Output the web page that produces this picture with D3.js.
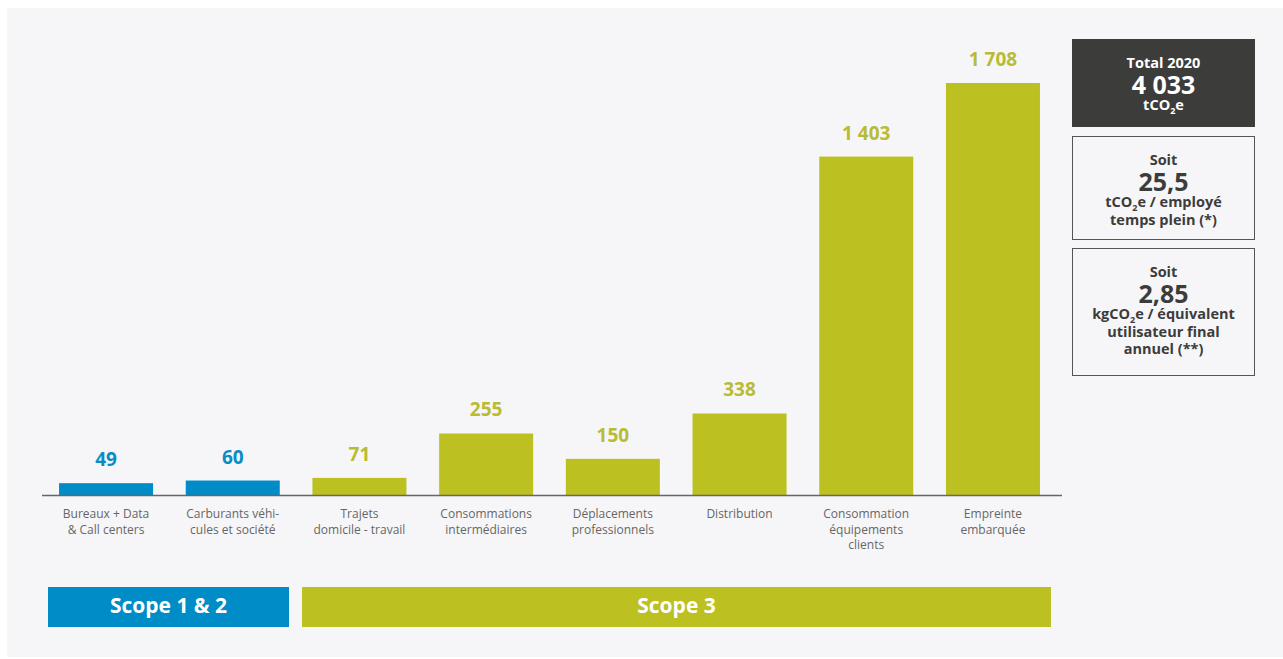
<!DOCTYPE html>
<html>
<head>
<meta charset="utf-8">
<script src="https://cdn.jsdelivr.net/npm/d3@7"></script>
<style>
  html, body { margin: 0; padding: 0; background: #ffffff; }
  svg { display: block; font-family: "Open Sans", Lato, sans-serif; }
</style>
</head>
<body>
<svg id="chart" width="1283" height="659"></svg>
<script>
// Emissions by source (tCO2e), 2020
const categories = [
  ["Bureaux + Data", "& Call centers"],
  ["Carburants véhi-", "cules et société"],
  ["Trajets", "domicile - travail"],
  ["Consommations", "intermédiaires"],
  ["Déplacements", "professionnels"],
  ["Distribution"],
  ["Consommation", "équipements", "clients"],
  ["Empreinte", "embarquée"]
];
const values = [49, 60, 71, 255, 150, 338, 1403, 1708];
const valueLabels = ["49", "60", "71", "255", "150", "338", "1 403", "1 708"];
const scopeOfBar = ["s12", "s12", "s3", "s3", "s3", "s3", "s3", "s3"];

const scopes = [
  { key: "s12", label: "Scope 1 & 2", first: 0, last: 1 },
  { key: "s3",  label: "Scope 3",     first: 2, last: 7 }
];

// summary cards: "|" marks the subscript part of a line
const summaryBoxes = [
  { dark: true,  lines: [["Total 2020", "s"], ["4 033", "b"], ["tCO|2|e", "s"]] },
  { dark: false, lines: [["Soit", "s"], ["25,5", "b"], ["tCO|2|e / employé", "s"], ["temps plein (*)", "s"]] },
  { dark: false, lines: [["Soit", "s"], ["2,85", "b"], ["kgCO|2|e / équivalent", "s"], ["utilisateur final", "s"], ["annuel (**)", "s"]] }
];

const colors = { s12: "#008cc7", s3: "#bcc021" };
const labelColors = { s12: "#0a8bc6", s3: "#b8bc34" };

const svg = d3.select("#chart");

// panel background
svg.append("rect").attr("x", 7).attr("y", 8).attr("width", 1276).attr("height", 649).attr("fill", "#f6f6f8");

const baseline = 495;
const x = d3.scaleBand()
  .domain(d3.range(values.length))
  .range([42.7, 1056.3])
  .paddingInner(0.258)
  .paddingOuter(0.129);
const y = d3.scaleLinear().domain([0, 1708]).range([baseline, 83]);

const g = svg.append("g");

// bars
g.selectAll("rect.bar").data(values).join("rect")
  .attr("class", "bar")
  .attr("x", (d, i) => x(i))
  .attr("width", x.bandwidth())
  .attr("y", d => y(d))
  .attr("height", d => baseline - y(d))
  .attr("fill", (d, i) => colors[scopeOfBar[i]]);

// value labels
g.selectAll("text.val").data(values).join("text")
  .attr("class", "val")
  .attr("x", (d, i) => x(i) + x.bandwidth() / 2)
  .attr("y", d => y(d) - 17)
  .attr("text-anchor", "middle")
  .attr("font-size", 19)
  .attr("font-weight", 700)
  .attr("fill", (d, i) => labelColors[scopeOfBar[i]])
  .text((d, i) => valueLabels[i]);

// axis line
g.append("line")
  .attr("x1", 42).attr("x2", 1062)
  .attr("y1", baseline + 0.5).attr("y2", baseline + 0.5)
  .attr("stroke", "#666666").attr("stroke-width", 1.3);

// category labels
const catG = g.selectAll("text.cat").data(categories).join("text")
  .attr("class", "cat")
  .attr("text-anchor", "middle")
  .attr("font-size", 12)
  .attr("fill", "#666666");
catG.each(function (lines, i) {
  const t = d3.select(this);
  lines.forEach((ln, k) => {
    t.append("tspan")
      .attr("x", x(i) + x.bandwidth() / 2)
      .attr("y", 518 + k * 15.5)
      .text(ln);
  });
});

// scope bands
const scopeG = g.selectAll("g.scope").data(scopes).join("g").attr("class", "scope");
const scopeX0 = s => s.first === 0 ? 48 : 302;
const scopeX1 = s => s.last === values.length - 1 ? 1051 : 289;
scopeG.append("rect")
  .attr("x", d => scopeX0(d))
  .attr("width", d => scopeX1(d) - scopeX0(d))
  .attr("y", 587).attr("height", 40)
  .attr("fill", d => colors[d.key]);
scopeG.append("text")
  .attr("x", d => (scopeX0(d) + scopeX1(d)) / 2)
  .attr("y", 613)
  .attr("text-anchor", "middle")
  .attr("font-size", 21)
  .attr("font-weight", 700)
  .attr("fill", "#ffffff")
  .text(d => d.label);

// summary boxes
const boxGeom = [
  { y: 39, h: 88, top: 68 },
  { y: 136, h: 104, top: 165 },
  { y: 248, h: 128, top: 277 }
];
summaryBoxes.forEach((b, bi) => {
  const gb = boxGeom[bi];
  const bx = svg.append("g");
  bx.append("rect")
    .attr("x", b.dark ? 1072 : 1072.5).attr("y", b.dark ? gb.y : gb.y + 0.5)
    .attr("width", b.dark ? 183 : 182).attr("height", b.dark ? gb.h : gb.h - 1)
    .attr("fill", b.dark ? "#3c3c3a" : "#f6f6f8")
    .attr("stroke", b.dark ? "none" : "#555555")
    .attr("stroke-width", 1);
  let yy = gb.top;
  b.lines.forEach((ln, li) => {
    const [txt, kind] = ln;
    if (li > 0) {
      const prev = b.lines[li - 1][1];
      yy += kind === "b" ? 26 : (prev === "b" ? 16 : 17.5);
    }
    const t = bx.append("text")
      .attr("x", 1163.5).attr("y", yy)
      .attr("text-anchor", "middle")
      .attr("font-weight", 700)
      .attr("font-size", kind === "b" ? 25 : 14.5)
      .attr("fill", b.dark ? "#ffffff" : "#3c3c3a");
    const parts = txt.split("|");
    parts.forEach((p, pi) => {
      const isSub = pi % 2 === 1;
      const ts = t.append("tspan").text(p);
      if (isSub) ts.attr("font-size", 9).attr("dy", 4);
      else if (pi > 0) ts.attr("dy", -4);
    });
  });
});
</script>
</body>
</html>
